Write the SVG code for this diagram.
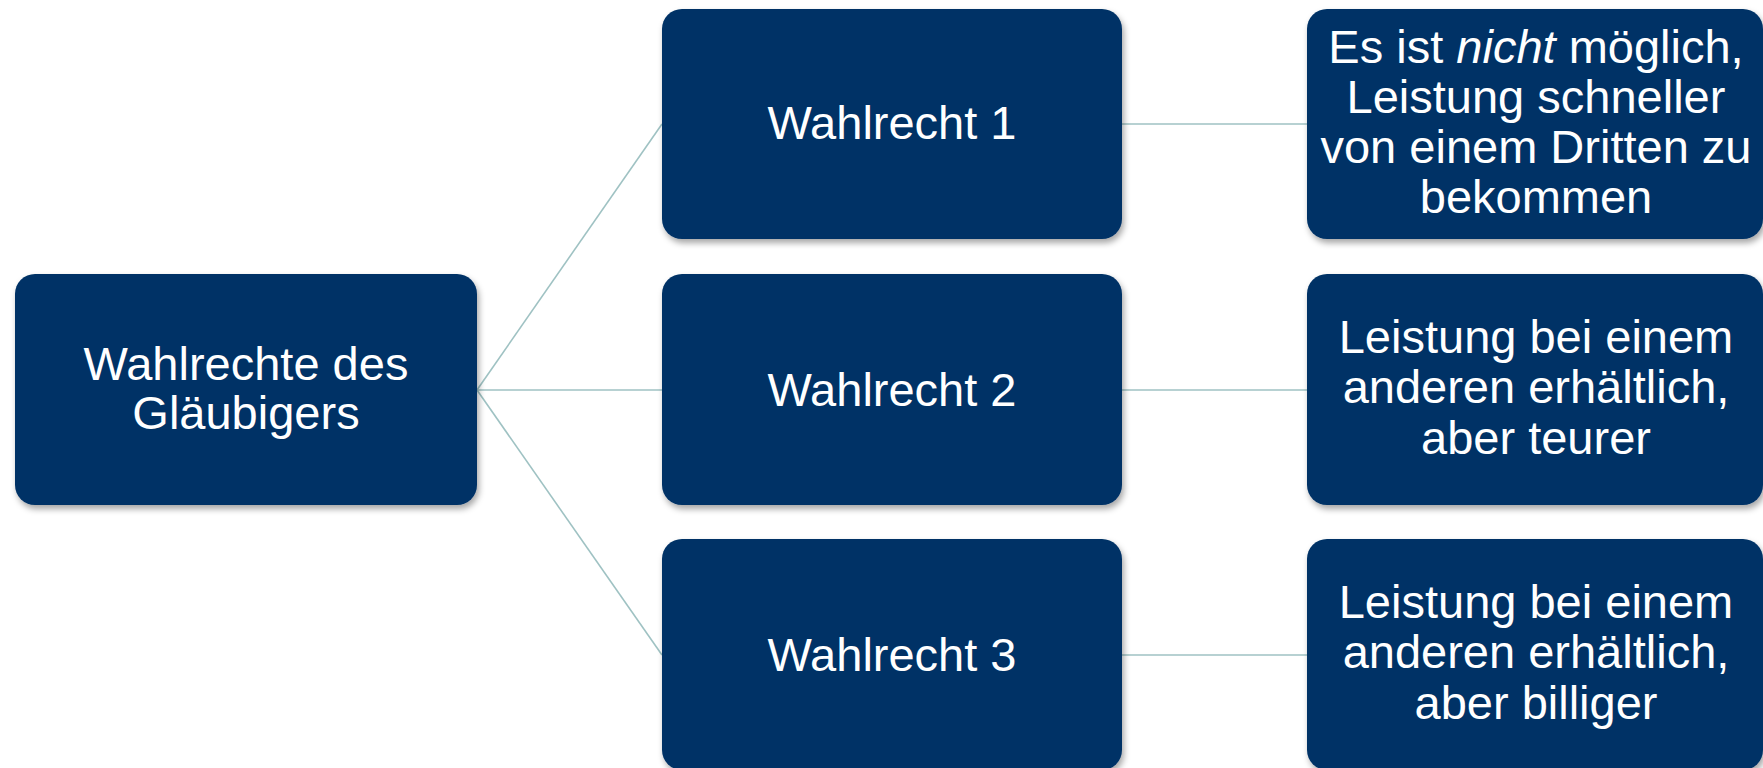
<svg xmlns="http://www.w3.org/2000/svg" width="1763" height="768" viewBox="0 0 1763 768">
  <defs>
    <filter id="shadow" x="-10%" y="-10%" width="120%" height="125%">
      <feDropShadow dx="2" dy="4" stdDeviation="3" flood-color="#000" flood-opacity="0.35"/>
    </filter>
    <style>
      .box { fill: #003366; filter: url(#shadow); }
      .lbl { fill: #ffffff; font-family: "Liberation Sans", Arial, sans-serif; font-size: 47px; text-anchor: middle; }
      .conn { stroke: #9fc2c3; stroke-width: 1.6; fill: none; }
    </style>
  </defs>
  <rect width="1763" height="768" fill="#ffffff"/>

  <g id="connectors">
    <line class="conn" x1="477" y1="390" x2="662" y2="124"/>
    <line class="conn" x1="477" y1="390" x2="662" y2="390"/>
    <line class="conn" x1="477" y1="390" x2="662" y2="655"/>
    <line class="conn" x1="1122" y1="124" x2="1307" y2="124"/>
    <line class="conn" x1="1122" y1="390" x2="1307" y2="390"/>
    <line class="conn" x1="1122" y1="655" x2="1307" y2="655"/>
  </g>

  <g id="root">
    <rect class="box" x="15" y="274" width="462" height="231" rx="20"/>
    <text class="lbl" x="246" y="380">Wahlrechte des</text>
    <text class="lbl" x="246" y="429">Gläubigers</text>
  </g>

  <g id="wahlrecht-1">
    <rect class="box" x="662" y="9" width="460" height="230" rx="20"/>
    <text class="lbl" x="892" y="139">Wahlrecht 1</text>
  </g>
  <g id="wahlrecht-2">
    <rect class="box" x="662" y="274" width="460" height="231" rx="20"/>
    <text class="lbl" x="892" y="406">Wahlrecht 2</text>
  </g>
  <g id="wahlrecht-3">
    <rect class="box" x="662" y="539" width="460" height="231" rx="20"/>
    <text class="lbl" x="892" y="671">Wahlrecht 3</text>
  </g>

  <g id="detail-1">
    <rect class="box" x="1307" y="9" width="456" height="230" rx="20"/>
    <text class="lbl" x="1536" y="63">Es ist <tspan font-style="italic">nicht</tspan> möglich,</text>
    <text class="lbl" x="1536" y="113">Leistung schneller</text>
    <text class="lbl" x="1536" y="163">von einem Dritten zu</text>
    <text class="lbl" x="1536" y="213">bekommen</text>
  </g>
  <g id="detail-2">
    <rect class="box" x="1307" y="274" width="456" height="231" rx="20"/>
    <text class="lbl" x="1536" y="353">Leistung bei einem</text>
    <text class="lbl" x="1536" y="403">anderen erhältlich,</text>
    <text class="lbl" x="1536" y="454">aber teurer</text>
  </g>
  <g id="detail-3">
    <rect class="box" x="1307" y="539" width="456" height="231" rx="20"/>
    <text class="lbl" x="1536" y="618">Leistung bei einem</text>
    <text class="lbl" x="1536" y="668">anderen erhältlich,</text>
    <text class="lbl" x="1536" y="719">aber billiger</text>
  </g>
</svg>
